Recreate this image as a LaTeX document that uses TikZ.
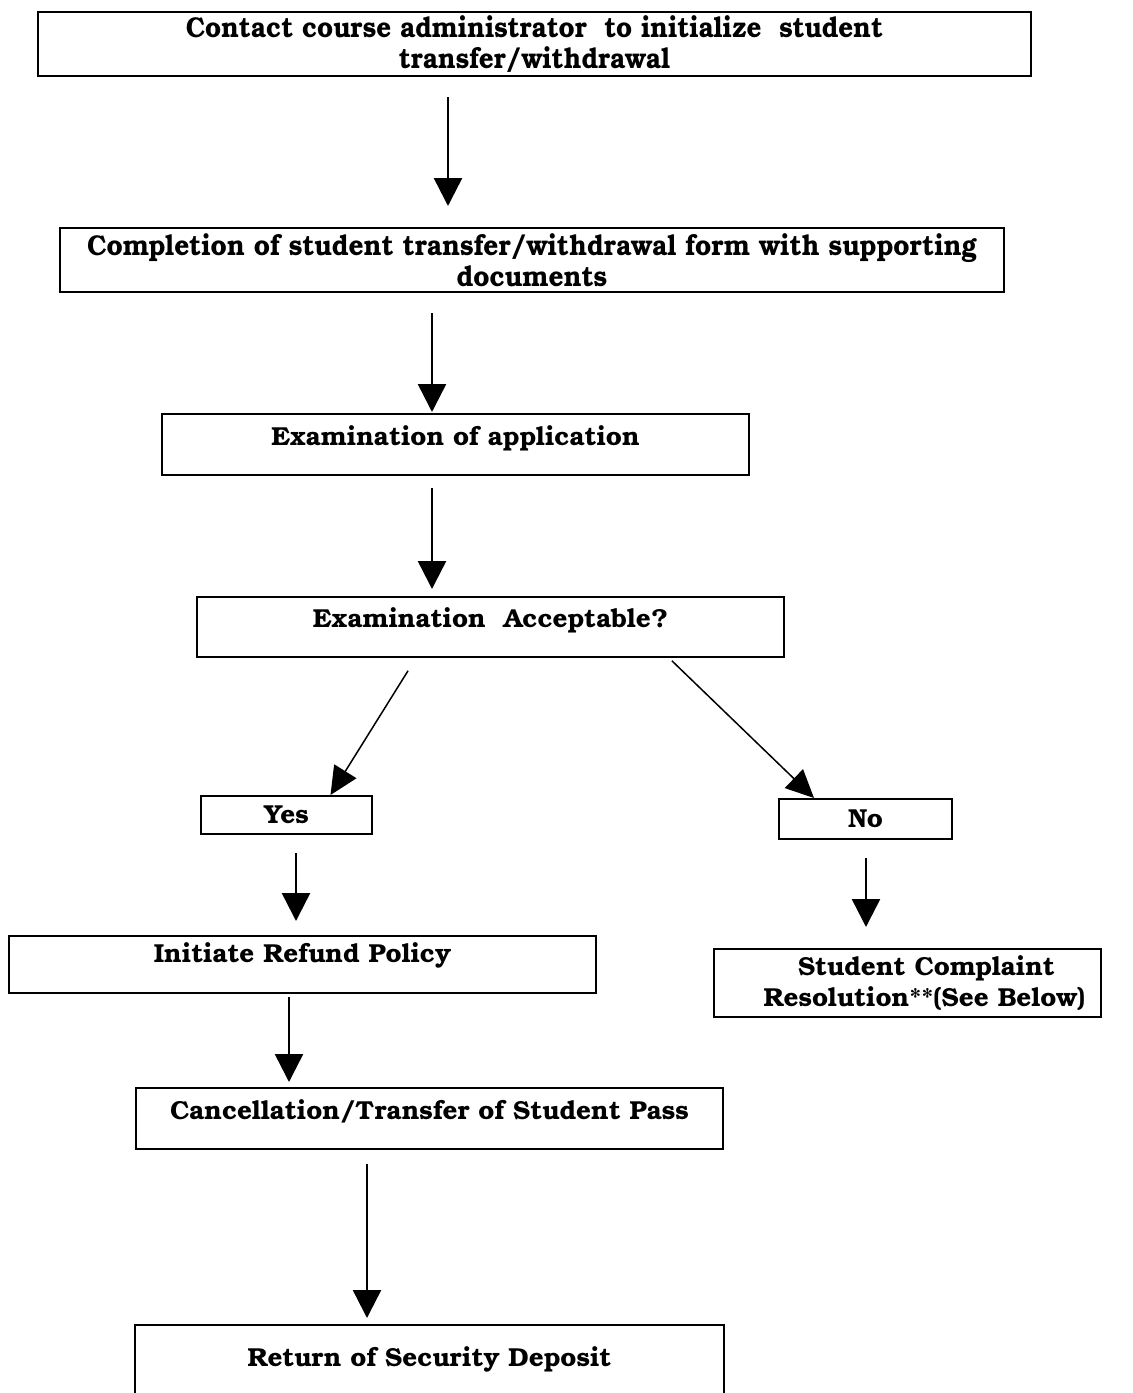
\documentclass[tikz,border=0pt]{standalone}
\usepackage{fontspec}
\setmainfont{TeX Gyre Bonum}
\usetikzlibrary{arrows.meta}
\begin{document}
\begin{tikzpicture}[x=1pt,y=-1pt,
  box/.style={draw, line width=2pt, inner sep=0pt, font=\bfseries\fontsize{26}{30.5}\selectfont, align=center},
  arr/.style={line width=2.5pt, -{Triangle[width=28pt,length=28pt]}},
  darr/.style={line width=1.5pt, -{Triangle[width=26pt,length=28pt]}}]
\useasboundingbox (0,0) rectangle (1133,1393);
\fill[white] (0,0) rectangle (1133,1393);

\node[box, minimum width=993pt, minimum height=64pt] (b1) at (534.5,44)
  {\scalebox{1}[1.1]{Contact course administrator\ \ to initialize\ \ student}\\\scalebox{1}[1.1]{transfer/withdrawal}};
\node[box, minimum width=944pt, minimum height=64pt] (b2) at (532,260)
  {\scalebox{1.01}[1.1]{Completion of student transfer/withdrawal form with supporting}\\\scalebox{1.01}[1.1]{documents}};
\node[box, minimum width=587pt, text height=31pt, text depth=30pt] (b3) at (455.5,444.5)
  {Examination of application};
\node[box, minimum width=587pt, text height=30pt, text depth=30pt] (b4) at (490.5,627)
  {Examination\ \ Acceptable?};
\node[box, minimum width=171pt, minimum height=38pt] (yes) at (286.5,815) {Yes};
\node[box, minimum width=173pt, minimum height=40pt] (no) at (865.5,819) {No};
\node[box, minimum width=587pt, text height=26pt, text depth=31pt] (refund) at (302.5,964.5)
  {Initiate Refund Policy};
\node[box, minimum width=387pt, minimum height=68pt] (compl) at (907.5,983)
  {\hspace*{38pt}Student Complaint\\\hspace*{34pt}Resolution**(See Below)};
\node[box, minimum width=587pt, text height=31pt, text depth=30pt] (cancel) at (429.5,1118.5)
  {Cancellation/Transfer of Student Pass};
\node[box, draw=none, minimum width=587pt, text height=40pt, text depth=27pt] (ret) at (429.5,1359.5)
  {Return of Security Deposit};
\draw[line width=2pt] (ret.south west) -- (ret.north west) -- (ret.north east) -- (ret.south east);

\draw[arr, shorten <=20pt, shorten >=21pt] ([xshift=-86.5pt]b1.south) -- ([xshift=-84pt]b2.north);
\draw[arr, shorten <=20pt, shorten >=1pt] ([xshift=-100pt]b2.south) -- ([xshift=-23.5pt]b3.north);
\draw[arr, shorten <=12pt, shorten >=7pt] ([xshift=-23.5pt]b3.south) -- ([xshift=-58.5pt]b4.north);
\draw[darr, shorten <=15pt] ([xshift=-74.5pt]b4.south) -- ([xshift=44pt]yes.north);
\draw[darr, shorten <=4pt] ([xshift=178.5pt]b4.south) -- ([xshift=-51.5pt]no.north);
\draw[arr, shorten <=18pt, shorten >=14pt] ([xshift=9.5pt]yes.south) -- ([xshift=-6.5pt]refund.north);
\draw[arr, shorten <=18pt, shorten >=21pt] ([xshift=0.5pt]no.south) -- ([xshift=-41.5pt]compl.north);
\draw[arr, shorten <=3pt, shorten >=5pt] ([xshift=-13.5pt]refund.south) -- ([xshift=-140.5pt]cancel.north);
\draw[arr, shorten <=14pt, shorten >=7pt] ([xshift=-62.5pt]cancel.south) -- ([xshift=-62.5pt]ret.north);
\end{tikzpicture}
\end{document}
